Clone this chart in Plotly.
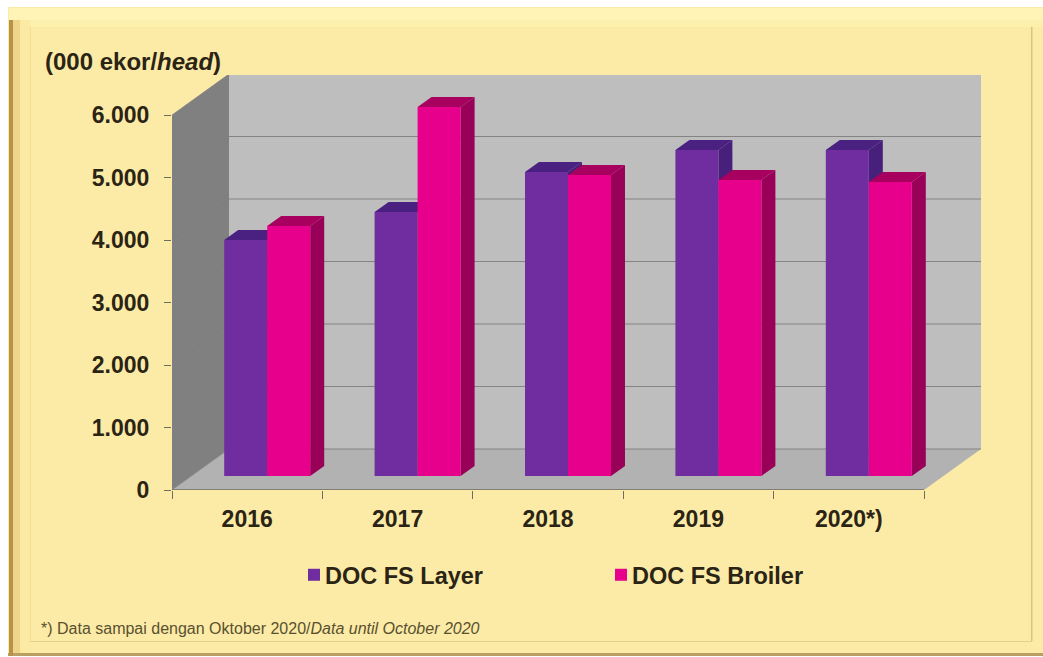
import plotly.graph_objects as go

categories = ["2016", "2017", "2018", "2019", "2020*)"]
layer = [3776, 4224, 4864, 5216, 5216]
broiler = [4000, 5904, 4816, 4736, 4704]
y_ticks = [0, 1000, 2000, 3000, 4000, 5000, 6000]
y_labels = ["0", "1.000", "2.000", "3.000", "4.000", "5.000", "6.000"]

W, H = 1043, 657
X0, X1 = 172, 982       # plot box in px
Y0, Y1 = 490, 75
PX_X = 150.4            # px per category
PX_Y = 62.5 / 1000      # px per value unit
WALL_DX = 57 / PX_X     # depth of the box
WALL_DY = 41 / PX_Y
BAR_W = 43 / PX_X
BAR_SHIFT = 20 / PX_X
BASE = 14 / PX_Y
D_DX = 14 / PX_X        # depth of a bar
D_DY = 10 / PX_Y
FONT = "Liberation Sans"
TXT = "#2b2415"

px = lambda v: v / W
py = lambda v: 1 - v / H


def frect(x0, y0, x1, y1, color):
    return dict(type="rect", xref="paper", yref="paper", x0=px(x0), x1=px(x1), y0=py(y0), y1=py(y1),
                fillcolor=color, line_width=0, layer="below")


def poly(points, color):
    path = "M" + " L".join(f"{a},{b}" for a, b in points) + " Z"
    return dict(type="path", xref="x", yref="y", path=path, fillcolor=color, line_width=0, layer="below")


shapes = [
    frect(8, 7, 1043, 657, "#FBEBA6"),          # base panel
    frect(8, 653, 1043, 656, "#B9A062"),        # bottom dark edge
    frect(8, 656, 1043, 657, "#FFFFFF"),
    frect(9, 8, 13, 656, "#B8924A"),            # left dark edge
    frect(13, 8, 20, 653, "#EFD58A"),
    frect(20, 8, 30, 653, "#FBE9A4"),
    frect(9, 8, 1043, 20, "#FFF3B6"),           # top light band
    frect(30, 20, 1043, 27, "#FDEFAC"),
    frect(30, 27, 31, 641, "#F1DF98"),          # inner bevel lines
    frect(1031, 27, 1032.5, 641, "#D8C480"),
    frect(30, 641, 1032, 642, "#E2D08C"),
]

x_end = 5.0
shapes += [
    poly([(0, 0), (WALL_DX, WALL_DY), (WALL_DX, 6000 + WALL_DY), (0, 6000)], "#808080"),
    poly([(WALL_DX, WALL_DY), (x_end + WALL_DX, WALL_DY), (x_end + WALL_DX, 6000 + WALL_DY), (WALL_DX, 6000 + WALL_DY)], "#BEBEBE"),
    poly([(0, 0), (x_end, 0), (x_end + WALL_DX, WALL_DY), (WALL_DX, WALL_DY)], "#B2B2B2"),
]
for t in y_ticks[1:] + [0]:
    shapes.append(dict(type="line", xref="x", yref="y", x0=WALL_DX, x1=x_end + WALL_DX,
                       y0=t + WALL_DY, y1=t + WALL_DY, line=dict(color="#848484", width=1.2), layer="below"))
    shapes.append(dict(type="line", xref="x", yref="y", x0=0, x1=WALL_DX,
                       y0=t, y1=t + WALL_DY, line=dict(color="#7C7C7C", width=0.6), layer="below"))

xs_layer = [i + BAR_SHIFT + 0.5 - BAR_W / 2 for i in range(5)]
xs_broiler = [i + BAR_SHIFT + 0.5 + BAR_W / 2 for i in range(5)]


def depth_faces(xc, v, top, side):
    left, right = xc - BAR_W / 2, xc + BAR_W / 2
    ytop = BASE + v
    return [
        poly([(right, BASE), (right + D_DX, BASE + D_DY), (right + D_DX, ytop + D_DY), (right, ytop)], side),
        poly([(left, ytop), (right, ytop), (right + D_DX, ytop + D_DY), (left + D_DX, ytop + D_DY)], top),
    ]


for i in range(5):
    shapes += depth_faces(xs_layer[i], layer[i], "#4A2180", "#46207A")
    shapes += depth_faces(xs_broiler[i], broiler[i], "#A8005F", "#990058")

shapes += [
    dict(type="line", xref="x", yref="y", x0=0, x1=x_end, y0=0, y1=0, line=dict(color="#6E6E5E", width=1.5), layer="below"),
]

fig = go.Figure()
fig.add_bar(name="DOC FS Layer", x=xs_layer, y=layer, base=BASE, width=BAR_W,
            marker=dict(color="#6F2DA0", line_width=0))
fig.add_bar(name="DOC FS Broiler", x=xs_broiler, y=broiler, base=BASE, width=BAR_W,
            marker=dict(color="#E6008C", line_width=0))

fig.update_layout(
    width=W, height=H, margin=dict(l=0, r=0, t=0, b=0, autoexpand=False),
    paper_bgcolor="white", plot_bgcolor="rgba(0,0,0,0)",
    barmode="overlay", shapes=shapes,
    font=dict(family=FONT, color=TXT),
    xaxis=dict(domain=[px(X0), px(X1)], range=[0, (X1 - X0) / PX_X], showgrid=False, zeroline=False,
               showline=False, tickvals=[i + 0.5 for i in range(5)], ticktext=categories, ticks="",
               ticklabelstandoff=13, tickfont=dict(size=23, family=FONT, weight="bold", color=TXT),
               minor=dict(tickvals=list(range(6)), ticks="outside", ticklen=8, tickcolor="#6E6E5E", tickwidth=1)),
    yaxis=dict(domain=[py(Y0), py(Y1)], range=[0, (Y0 - Y1) / PX_Y], showgrid=False, zeroline=False,
               showline=False, tickvals=y_ticks, ticktext=y_labels, ticks="outside", ticklen=7,
               tickcolor="#6E6E5E", tickwidth=1, ticklabelstandoff=10,
               tickfont=dict(size=23, family=FONT, weight="bold", color=TXT)),
    legend=dict(orientation="h", x=px(294), xanchor="left",
                y=py(575), yanchor="middle", bgcolor="rgba(0,0,0,0)",
                font=dict(size=23.5, family=FONT, weight="bold", color=TXT),
                entrywidthmode="pixels", entrywidth=262),
    annotations=[
        dict(xref="paper", yref="paper", x=px(43), y=py(61), xanchor="left", yanchor="middle", showarrow=False,
             text="<b>(000 ekor/<i>head</i>)</b>", font=dict(size=24, family=FONT, color=TXT)),
        dict(xref="paper", yref="paper", x=px(39), y=py(628), xanchor="left", yanchor="middle", showarrow=False,
             text="*) Data sampai dengan Oktober 2020/<i>Data until October 2020</i>",
             font=dict(size=16, family=FONT, color="#5a5030")),
    ],
)

post = """
document.body.style.margin='0';
document.querySelectorAll('.legendtext').forEach(t=>t.setAttribute('x','31'));
"""
fig.write_html("out.html", post_script=post, config=dict(displayModeBar=False))
